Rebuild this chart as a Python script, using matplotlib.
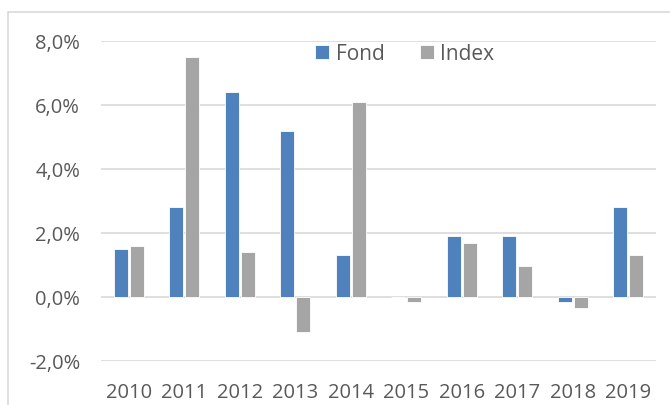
import matplotlib
matplotlib.use("Agg")
import matplotlib.pyplot as plt
import numpy as np
from matplotlib.patches import Rectangle

years = ["2010", "2011", "2012", "2013", "2014", "2015", "2016", "2017", "2018", "2019"]
fond = [1.5, 2.8, 6.4, 5.2, 1.3, 0.0, 1.9, 1.9, -0.17, 2.82]
index = [1.6, 7.5, 1.4, -1.08, 6.1, -0.17, 1.7, 0.97, -0.35, 1.32]
yticks = [-2, 0, 2, 4, 6, 8]

plt.rcParams["font.family"] = ["Open Sans", "DejaVu Sans"]
text_color = "#595959"
grid_color = "#D9D9D9"

fig = plt.figure(figsize=(6.7, 4.06), dpi=100)
fig.patch.set_facecolor("white")

# chart frame (Excel style), runs off the right and bottom edges
fig.add_artist(Rectangle((8 / 670, -0.1), 1.2, 1 - 13 / 406 + 0.1,
                         transform=fig.transFigure, fill=False,
                         edgecolor=grid_color, linewidth=1.2))

ax = fig.add_axes([101 / 670, 1 - 362 / 406, 555 / 670, 320 / 406])
x = np.arange(len(years))
w = 0.25
ax.bar(x - w / 2 - 0.02, fond, width=w, color="#4F81BD", edgecolor="white", linewidth=0.6, label="Fond", zorder=3)
ax.bar(x + w / 2 + 0.02, index, width=w, color="#A5A5A5", edgecolor="white", linewidth=0.6, label="Index", zorder=3)

ax.set_xlim(-0.5, len(years) - 0.5)
ax.set_ylim(-2, 8)
ax.set_yticks(yticks)
ax.set_yticklabels([f"{v:.1f}%".replace(".", ",") for v in yticks])
ax.set_xticks(x)
ax.set_xticklabels(years)
ax.tick_params(axis="both", length=0, colors=text_color, labelsize=14.5)
ax.tick_params(axis="y", pad=15)
ax.tick_params(axis="x", pad=15)
ax.grid(axis="y", color=grid_color, linewidth=1.2, zorder=0)
for s in ax.spines.values():
    s.set_visible(False)

leg = ax.legend(loc="center", bbox_to_anchor=(0.547, (362 - 55) / 320), ncol=2, frameon=False,
                fontsize=15, handlelength=0.67, handleheight=0.67, columnspacing=1.7,
                handletextpad=0.3, borderpad=0, borderaxespad=0)
for t in leg.get_texts():
    t.set_color(text_color)

fig.savefig("out.png", dpi=100)
